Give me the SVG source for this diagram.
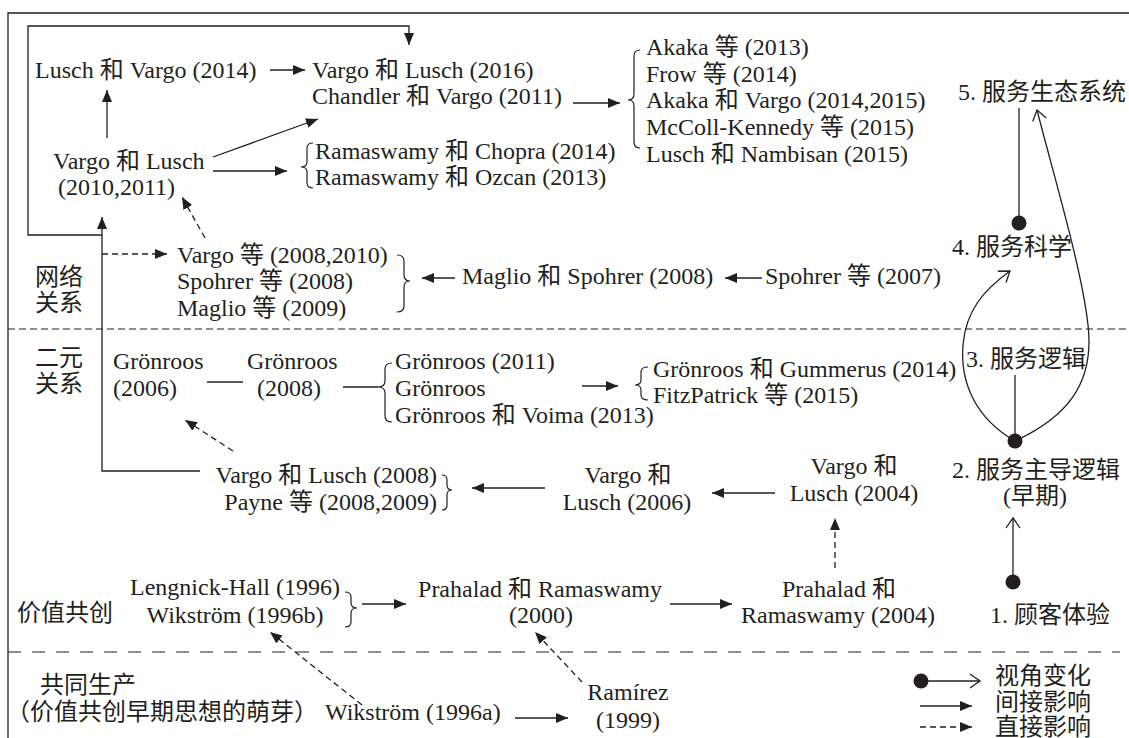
<svg xmlns="http://www.w3.org/2000/svg" width="1129" height="738" viewBox="0 0 1129 738">
<style>
text{font-family:"Liberation Serif","Noto Sans CJK SC",serif;font-size:24px;fill:#231f20}
.m{text-anchor:middle}
.e{text-anchor:end}
.c{fill:none;stroke:#231f20;stroke-width:1.3}
.d{stroke-dasharray:6 4}
.br{fill:none;stroke:#231f20;stroke-width:1.2}
</style>
<defs>
<marker id="arr" markerUnits="userSpaceOnUse" markerWidth="13" markerHeight="11" refX="12" refY="5" orient="auto">
<path d="M0,0 L12,5 L0,10 z" fill="#231f20"/>
</marker>
<marker id="open" markerUnits="userSpaceOnUse" markerWidth="14" markerHeight="16" refX="11" refY="8" orient="auto">
<path d="M1,1 L11,8 L1,15" fill="none" stroke="#231f20" stroke-width="1.3"/>
</marker>
</defs>
<rect width="1129" height="738" fill="#fff"/>

<g id="frame">
<path class="c" d="M8,738 V13 H1129"/>
<line x1="8" y1="329" x2="1129" y2="329" stroke="#231f20" stroke-width="1.2" stroke-dasharray="7 4"/>
<line x1="8" y1="652" x2="1120" y2="652" stroke="#231f20" stroke-width="1.2" stroke-dasharray="13 11"/>
</g>

<g id="connectors">
<path class="c" d="M270,70 H305" marker-end="url(#arr)"/>
<path class="c" d="M107,138 V90" marker-end="url(#arr)"/>
<path class="c" d="M213,157 L318,119" marker-end="url(#arr)"/>
<path class="c" d="M213,171 H287" marker-end="url(#arr)"/>
<path class="c" d="M573,103 H620" marker-end="url(#arr)"/>
<path class="c" d="M102,235 H28 V26 H409 V45" marker-end="url(#arr)"/>
<path class="c" d="M200,471 H102 V217" marker-end="url(#arr)"/>
<path class="c d" d="M102,254 H167" marker-end="url(#arr)"/>
<path class="c d" d="M205,238 L182,197" marker-end="url(#arr)"/>
<path class="c" d="M455,278 H422" marker-end="url(#arr)"/>
<path class="c" d="M762,278 H725" marker-end="url(#arr)"/>
<path class="c" d="M207,382 H243"/>
<path class="c" d="M343,387 H378"/>
<path class="c" d="M582,386 H618" marker-end="url(#arr)"/>
<path class="c d" d="M233,451 L185,420" marker-end="url(#arr)"/>
<path class="c" d="M545,488 H472" marker-end="url(#arr)"/>
<path class="c" d="M775,493 H712" marker-end="url(#arr)"/>
<path class="c" d="M362,604 H406" marker-end="url(#arr)"/>
<path class="c" d="M670,604 H732" marker-end="url(#arr)"/>
<path class="c d" d="M835,568 V518" marker-end="url(#arr)"/>
<path class="c d" d="M362,705 L270,632" marker-end="url(#arr)"/>
<path class="c d" d="M582,682 L535,632" marker-end="url(#arr)"/>
<path class="c" d="M515,718 H568" marker-end="url(#arr)"/>
<!-- perspective change -->
<circle cx="1019" cy="223" r="7.5" fill="#231f20"/>
<path class="c" d="M1019,223 V108"/>
<circle cx="1015" cy="441" r="7.5" fill="#231f20"/>
<path class="c" d="M1015,441 V375"/>
<path class="c" d="M1015,441 C975,418 960,382 963,345 C966,310 984,290 1010,271" marker-end="url(#open)"/>
<path class="c" d="M1015,441 C1065,418 1095,385 1088,325 C1082,270 1055,180 1037,110" marker-end="url(#open)"/>
<circle cx="1013" cy="582" r="7.5" fill="#231f20"/>
<path class="c" d="M1013,582 V518" marker-end="url(#open)"/>
<!-- braces -->
<path class="br" d="M640,50 Q634,50 634,56 L634,94 Q634,100 628,100 Q634,100 634,106 L634,142 Q634,148 640,148"/>
<path class="br" d="M313,143 Q307,143 307,148 L307,162 Q307,167 301,167 Q307,167 307,172 L307,183 Q307,188 313,188"/>
<path class="br" d="M397,255 Q404,255 404,261 L404,275 Q404,281 410,281 Q404,281 404,287 L404,306 Q404,312 397,312"/>
<path class="br" d="M392,363 Q385,363 385,369 L385,381 Q385,387 378,387 Q385,387 385,393 L385,416 Q385,422 392,422"/>
<path class="br" d="M648,367 Q641,367 641,372 L641,380 Q641,385 635,385 Q641,385 641,390 L641,395 Q641,400 648,400"/>
<path class="br" d="M442,475 Q447,475 447,480 L447,485 Q447,490 452,490 Q447,490 447,495 L447,505 Q447,510 442,510"/>
<path class="br" d="M345,592 Q351,592 351,597 L351,603 Q351,608 357,608 Q351,608 351,613 L351,622 Q351,627 345,627"/>
</g>

<g id="n-lusch2014"><text x="35" y="78">Lusch 和 Vargo (2014)</text></g>
<g id="n-vargo2016"><text x="312" y="78">Vargo 和 Lusch (2016)</text><text x="312" y="104">Chandler 和 Vargo (2011)</text></g>
<g id="n-akaka">
<text x="646" y="55">Akaka 等 (2013)</text>
<text x="646" y="82">Frow 等 (2014)</text>
<text x="646" y="108">Akaka 和 Vargo (2014,2015)</text>
<text x="646" y="135">McColl-Kennedy 等 (2015)</text>
<text x="646" y="162">Lusch 和 Nambisan (2015)</text>
</g>
<g id="n-vargo2010"><text x="53" y="169">Vargo 和 Lusch</text><text x="58" y="195">(2010,2011)</text></g>
<g id="n-ramaswamy"><text x="315" y="159">Ramaswamy 和 Chopra (2014)</text><text x="315" y="185">Ramaswamy 和 Ozcan (2013)</text></g>
<g id="n-p5"><text x="958" y="100">5. 服务生态系统</text></g>

<g id="l-network"><text x="35" y="285">网络</text><text x="35" y="311">关系</text></g>
<g id="n-vargo2008"><text x="177" y="263">Vargo 等 (2008,2010)</text><text x="177" y="289">Spohrer 等 (2008)</text><text x="177" y="316">Maglio 等 (2009)</text></g>
<g id="n-maglio"><text x="462" y="284">Maglio 和 Spohrer (2008)</text></g>
<g id="n-spohrer"><text x="765" y="284">Spohrer 等 (2007)</text></g>
<g id="n-p4"><text x="952" y="255">4. 服务科学</text></g>

<g id="l-dyadic"><text x="35" y="366">二元</text><text x="35" y="392">关系</text></g>
<g id="n-gr2006"><text x="113" y="369">Grönroos</text><text x="113" y="396">(2006)</text></g>
<g id="n-gr2008"><text x="247" y="369">Grönroos</text><text x="257" y="396">(2008)</text></g>
<g id="n-gr2011"><text x="395" y="369">Grönroos (2011)</text><text x="395" y="396">Grönroos</text><text x="395" y="423">Grönroos 和 Voima (2013)</text></g>
<g id="n-gr2014"><text x="653" y="377">Grönroos 和 Gummerus (2014)</text><text x="653" y="403">FitzPatrick 等 (2015)</text></g>
<g id="n-p3"><text x="966" y="367">3. 服务逻辑</text></g>
<g id="n-vl2008"><text class="e" x="437" y="483">Vargo 和 Lusch (2008)</text><text class="e" x="437" y="510">Payne 等 (2008,2009)</text></g>
<g id="n-vl2006"><text class="m" x="628" y="483">Vargo 和</text><text class="m" x="627" y="510">Lusch (2006)</text></g>
<g id="n-vl2004"><text class="m" x="854" y="474">Vargo 和</text><text class="m" x="854" y="501">Lusch (2004)</text></g>
<g id="n-p2"><text x="952" y="478">2. 服务主导逻辑</text><text class="m" x="1035" y="504">(早期)</text></g>

<g id="l-cocreation"><text x="17" y="621">价值共创</text></g>
<g id="n-lengnick"><text class="m" x="235" y="595">Lengnick-Hall (1996)</text><text class="m" x="235" y="623">Wikström (1996b)</text></g>
<g id="n-pr2000"><text class="m" x="540" y="597">Prahalad 和 Ramaswamy</text><text class="m" x="541" y="623">(2000)</text></g>
<g id="n-pr2004"><text class="m" x="839" y="597">Prahalad 和</text><text class="m" x="838" y="623">Ramaswamy (2004)</text></g>
<g id="n-p1"><text x="990" y="623">1. 顾客体验</text></g>

<g id="l-coproduction"><text x="40" y="693">共同生产</text><text x="6" y="720">（价值共创早期思想的萌芽）</text></g>
<g id="n-wik1996a"><text x="325" y="720">Wikström (1996a)</text></g>
<g id="n-ramirez"><text class="m" x="628" y="700">Ramírez</text><text class="m" x="628" y="728">(1999)</text></g>

<g id="legend">
<circle cx="921" cy="681" r="7.5" fill="#231f20"/>
<path class="c" d="M921,681 H980" marker-end="url(#open)"/>
<path class="c" d="M920,706 H972" marker-end="url(#arr)"/>
<path class="c d" d="M920,727 H972" marker-end="url(#arr)"/>
<text x="995" y="684">视角变化</text>
<text x="995" y="710">间接影响</text>
<text x="995" y="735">直接影响</text>
</g>
</svg>
